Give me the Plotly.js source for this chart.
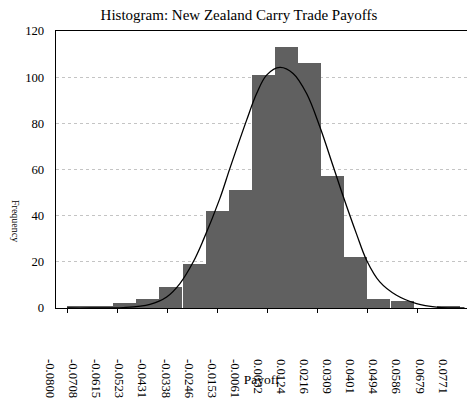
<!DOCTYPE html>
<html>
<head>
<meta charset="utf-8">
<script src="https://cdn.plot.ly/plotly-3.0.1.min.js"></script>
<style>html,body{margin:0;padding:0;background:#fff;}#chart{width:467px;height:401px;}</style>
</head>
<body>
<div id="chart"></div>
<script>
// Bin lower edges (tick labels) of the histogram
const binLabels = ["-0.0800","-0.0708","-0.0615","-0.0523","-0.0431","-0.0338","-0.0246","-0.0153","-0.0061","0.0032","0.0124","0.0216","0.0309","0.0401","0.0494","0.0586","0.0679","0.0771"];
const binStarts = [-0.0800,-0.0708,-0.0615,-0.0523,-0.0431,-0.0338,-0.0246,-0.0153,-0.0061,0.0032,0.0124,0.0216,0.0309,0.0401,0.0494,0.0586,0.0679,0.0771];
// Frequencies per bin
const counts = [1,1,2,4,9,19,42,51,101,113,106,57,22,4,3,0,1];
// Fitted normal curve
const curveX = [-0.0800,-0.0709,-0.0576,-0.0469,-0.0402,-0.0349,-0.0296,-0.0256,-0.0189,-0.0149,-0.0082,-0.0042,-0.0002,0.0051,0.0104,0.0158,0.0211,0.0264,0.0304,0.0358,0.0398,0.0451,0.0518,0.0598,0.0678,0.0790];
const curveY = [0,0,0.2,1.6,4.8,10.6,19.9,29.3,47.5,60.5,81.4,92.9,100.9,104.2,101.6,92.9,78.5,61.5,48.5,32.0,20.7,11.3,5.5,1.9,0.4,0];

const binWidth = binStarts[1] - binStarts[0];
const barX = counts.map((c, i) => binStarts[i] + binWidth / 2);

const serif = "Liberation Serif, Times New Roman, serif";
const xRange = [-0.0845, 0.0800];

const data = [
  {type: 'bar', x: barX, y: counts, width: binWidth, marker: {color: '#606060', line: {width: 0}}, xaxis: 'x', yaxis: 'y'},
  {type: 'scatter', mode: 'lines', x: curveX, y: curveY, line: {color: '#000', width: 1.3, shape: 'spline'}, xaxis: 'x', yaxis: 'y'},
  {type: 'scatter', mode: 'markers', x: [binStarts[0]], y: [0], marker: {opacity: 0}, xaxis: 'x2', yaxis: 'y', hoverinfo: 'skip'}
];

const layout = {
  width: 467, height: 401,
  margin: {l: 56, r: 0, t: 31, b: 93, pad: 0},
  paper_bgcolor: '#fff', plot_bgcolor: '#fff',
  showlegend: false, bargap: 0,
  font: {family: serif, size: 12.7, color: '#000'},
  title: {text: 'Histogram: New Zealand Carry Trade Payoffs', x: 239/467, xanchor: 'center', xref: 'container', y: 1 - 15/401, yanchor: 'middle', yref: 'container', font: {family: serif, size: 15, color: '#000'}},
  xaxis: {
    range: xRange, showgrid: false, zeroline: false,
    showline: true, linecolor: '#000', linewidth: 1.3, mirror: true,
    ticks: 'outside', ticklen: 4, tickcolor: '#000', tick0: -0.08, dtick: 0.02,
    showticklabels: false,
    title: {text: 'Payoff', standoff: 62, font: {family: serif, size: 13.5, color: '#000'}}
  },
  xaxis2: {
    overlaying: 'x', anchor: 'y', side: 'bottom',
    range: xRange,
    showgrid: false, zeroline: false, showline: false, ticks: '',
    tickmode: 'array', tickvals: binStarts, ticktext: binLabels,
    tickangle: 90, ticklabelstandoff: 50, ticklabelshift: -17,
    tickfont: {family: serif, size: 12.7, color: '#000'}
  },
  yaxis: {
    range: [0, 120], dtick: 20, tick0: 0,
    showgrid: true, gridcolor: '#c4c4c4', griddash: 'dot', gridwidth: 1,
    zeroline: false, showline: true, linecolor: '#000', linewidth: 1.3,
    ticks: '', ticklabelstandoff: 8,
    tickfont: {family: serif, size: 12.7, color: '#000'}
  },
  annotations: [
    {text: 'Frequency', xref: 'paper', yref: 'paper', x: (16 - 56) / 411, y: (308 - 221) / 277, showarrow: false, textangle: 90, font: {family: serif, size: 10, color: '#000'}, xanchor: 'center', yanchor: 'middle'}
  ]
};

Plotly.newPlot('chart', data, layout, {displayModeBar: false, staticPlot: true});
</script>
</body>
</html>
